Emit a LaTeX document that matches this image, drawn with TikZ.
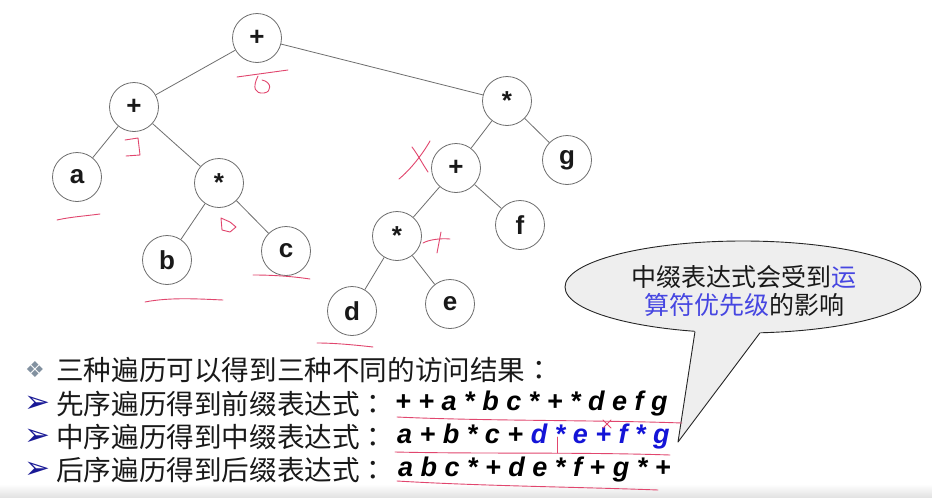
\documentclass[tikz,border=0pt]{standalone}
\usepackage{fontspec}
\setmainfont{Liberation Sans}
\newfontfamily\cjk{Noto Sans CJK SC}
\newfontfamily\cjktc{Noto Sans CJK TC}
\newfontfamily\symf{DejaVu Sans}
\newcommand{\qcolon}{{\cjktc ：}}
\definecolor{edgegray}{RGB}{110,110,110}
\definecolor{txt}{RGB}{25,25,25}
\definecolor{exblue}{RGB}{20,20,215}
\definecolor{cblue}{RGB}{70,70,225}
\definecolor{arrowblue}{RGB}{25,25,150}
\definecolor{diamondgray}{RGB}{130,145,160}
\definecolor{redpen}{RGB}{225,70,110}
\definecolor{balloon}{RGB}{238,238,238}
\tikzset{
  tn/.style={circle, draw=edgegray, line width=0.8pt, minimum size=49pt, inner sep=0pt,
    font=\fontsize{26pt}{28pt}\selectfont\bfseries, text=black!90},
  edge/.style={draw=edgegray, line width=0.8pt},
  redmark/.style={draw=redpen, line width=0.9pt, line cap=round, line join=round},
  cjkline/.style={anchor=west, inner sep=0pt, text=txt, font=\cjk\fontsize{27.6pt}{30pt}\selectfont},
  expr/.style={anchor=west, inner sep=0pt, text=black, font=\fontsize{27pt}{30pt}\selectfont\bfseries\itshape},
  bullet/.style={inner sep=0pt, font=\symf\fontsize{31pt}{32pt}\selectfont}
}
\begin{document}
\begin{tikzpicture}[x=1pt,y=-1pt]
\useasboundingbox (0,0) rectangle (932,498);
\fill[white] (0,0) rectangle (932,498);
\shade[top color=white, bottom color=black!12] (0,484) rectangle (932,498);

% tree nodes
\node[tn] (r)  at (257,38)  {+};
\node[tn] (l1) at (134,107) {+};
\node[tn] (a)  at (77,177)  {a};
\node[tn] (m1) at (219,183) {*};
\node[tn] (b)  at (167,260) {b};
\node[tn] (c)  at (286,251) {c};
\node[tn] (r1) at (507,101) {*};
\node[tn] (p2) at (456,168) {+};
\node[tn] (g)  at (567,160) {g};
\node[tn] (m2) at (397,236) {*};
\node[tn] (f)  at (520,225) {f};
\node[tn] (d)  at (352,311) {d};
\node[tn] (e)  at (450,304) {e};

\draw[edge] (r) -- (l1);
\draw[edge] (r) -- (r1);
\draw[edge] (l1) -- (a);
\draw[edge] (l1) -- (m1);
\draw[edge] (m1) -- (b);
\draw[edge] (m1) -- (c);
\draw[edge] (r1) -- (p2);
\draw[edge] (r1) -- (g);
\draw[edge] (p2) -- (m2);
\draw[edge] (p2) -- (f);
\draw[edge] (m2) -- (d);
\draw[edge] (m2) -- (e);

% callout balloon
\draw[fill=balloon, draw=black!85, line width=0.9pt] (743,287) ellipse [x radius=178pt, y radius=46pt];
\fill[balloon] (692,326) -- (695,331) -- (678,442) -- (760,333) -- (764,326) -- cycle;
\draw[black!85, line width=0.9pt, line join=round] (695,331.5) -- (678,442) -- (760,332.8);
\node[inner sep=0pt, align=center, text=txt, font=\cjk\fontsize{25pt}{28pt}\selectfont] (callt) at (744,291)
  {中缀表达式会受到\textcolor{cblue}{运}\\\textcolor{cblue}{算符优先级}的影响};

% bottom text
\node[bullet, text=diamondgray, font=\symf\fontsize{22pt}{24pt}\selectfont] (b0) at (35,370) {❖};
\node[cjkline] (t0) at (56,370) {三种遍历可以得到三种不同的访问结果\qcolon};
\node[bullet, text=arrowblue] (b1) at (37,404) {➢};
\node[cjkline] (t1) at (56,404) {先序遍历得到前缀表达式\qcolon};
\node[expr] (x1) at (395,404) {+ + a * b c * + * d e f g};
\node[bullet, text=arrowblue] (b2) at (37,437) {➢};
\node[cjkline] (t2) at (56,437) {中序遍历得到中缀表达式\qcolon};
\node[expr] (x2) at (397,437) {a + b * c + \textcolor{exblue}{d * e + f * g}};
\node[bullet, text=arrowblue] (b3) at (37,470) {➢};
\node[cjkline] (t3) at (56,470) {后序遍历得到后缀表达式\qcolon};
\node[expr] (x3) at (398,470) {a b c * + d e * f + g * +};

% red handwritten marks
\draw[redmark] (237,77) -- (288,70);
\draw[redmark] (258,76) .. controls (252,88) and (255,94) .. (264,93) .. controls (272,92) and (272,82) .. (262,80);
\draw[redmark] (125,140) -- (138,138) -- (140,155) -- (126,156);
\draw[redmark] (57,220) .. controls (70,217) and (85,216) .. (100,214);
\draw[redmark] (221,218) -- (222,230) -- (230,232) -- (236,227) -- (230,222) -- cycle;
\draw[redmark] (145,302) .. controls (170,297) and (200,299) .. (223,300);
\draw[redmark] (253,275) .. controls (270,275) and (290,276) .. (310,279);
\draw[redmark] (412,147) .. controls (418,155) and (422,163) .. (428,172);
\draw[redmark] (430,141) .. controls (422,155) and (410,170) .. (399,179);
\draw[redmark] (423,243) .. controls (428,240) and (440,238) .. (450,239);
\draw[redmark] (441,232) -- (437,253);
\draw[redmark] (317,343) .. controls (335,343) and (355,345) .. (373,347);
\draw[redmark] (397,417) .. controls (480,421) and (600,420) .. (682,423);
\draw[redmark] (395,452) .. controls (480,454) and (580,452) .. (670,455);
\draw[redmark] (397,481) .. controls (480,486) and (580,487) .. (658,490);
\draw[redmark] (557,437) -- (557,453);
\draw[redmark] (603,420) -- (611,428);
\draw[redmark] (611,420) -- (603,428);
\end{tikzpicture}
\end{document}
